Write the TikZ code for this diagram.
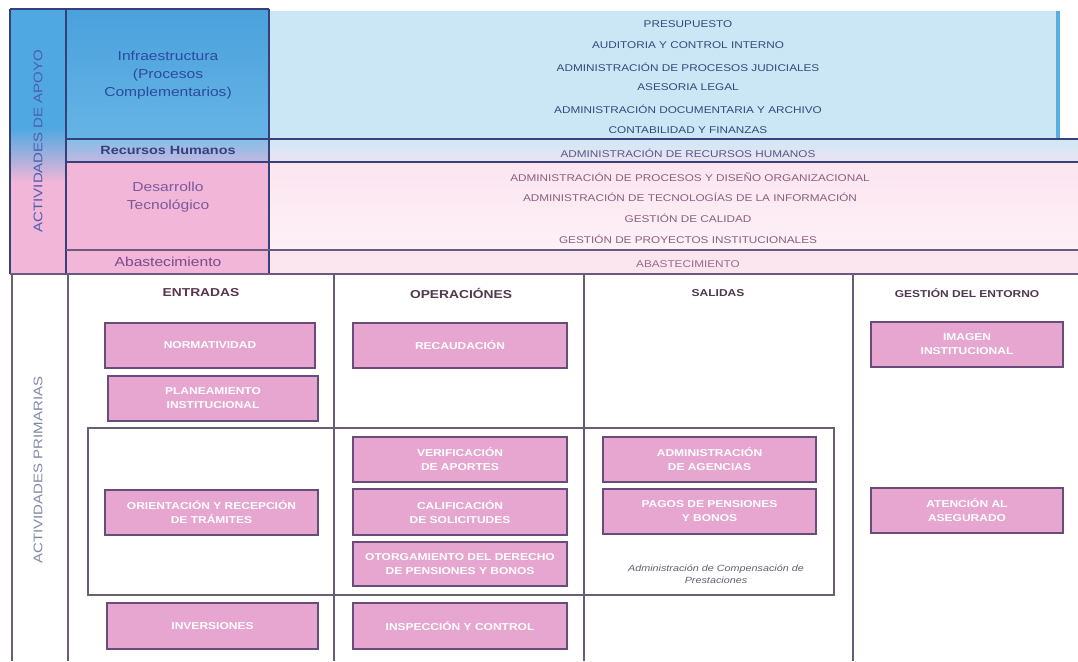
\documentclass[tikz,border=0pt]{standalone}
\usepackage{fontspec}
\setmainfont[FakeStretch=1.2]{Liberation Sans}
\definecolor{navyln}{HTML}{38407A}
\definecolor{plumln}{HTML}{6A5A80}
\definecolor{gridln}{HTML}{6A5E72}
\definecolor{bluecol}{HTML}{4FA8E1}
\definecolor{bluelabA}{HTML}{4AA1DB}
\definecolor{bluelabB}{HTML}{66B4E6}
\definecolor{rhlabA}{HTML}{84BFE8}
\definecolor{rhlabB}{HTML}{C3B6DF}
\definecolor{bluecont}{HTML}{CBE7F6}
\definecolor{blueedge}{HTML}{5AAEE2}
\definecolor{rhcontA}{HTML}{D0E8F6}
\definecolor{rhcontB}{HTML}{EAE2F1}
\definecolor{pinklab}{HTML}{F1B6D8}
\definecolor{pinkcont}{HTML}{FCE5F0}
\definecolor{pinkfade}{HTML}{FDF1F6}
\definecolor{abascont}{HTML}{FBE6F0}
\definecolor{pinkbox}{HTML}{E7A6D0}
\definecolor{boxedge}{HTML}{674C7C}
\definecolor{txtblue}{HTML}{34497A}
\definecolor{txtrh}{HTML}{555A88}
\definecolor{txtmauve}{HTML}{8A607E}
\definecolor{txtabas}{HTML}{9A6A88}
\definecolor{headc}{HTML}{4E3A4C}
\definecolor{headplum}{HTML}{5A3550}
\definecolor{labblue}{HTML}{2C4A9E}
\definecolor{labrh}{HTML}{3A3F7A}
\definecolor{labpurple}{HTML}{7A5A9A}
\definecolor{lababas}{HTML}{7A4A8A}
\definecolor{sideblue}{HTML}{4A5FAE}
\definecolor{sidegrey}{HTML}{8088A8}
\definecolor{notegrey}{HTML}{606070}
\begin{document}
\begin{tikzpicture}[x=1pt,y=-1pt,
  toptxt/.style={font=\fontsize{9.8}{11}\selectfont, text=txtblue},
  lowtxt/.style={toptxt, text=txtmauve},
  lab/.style={font=\fontsize{13}{18}\selectfont, align=center},
  head/.style={font=\bfseries\fontsize{11.5}{13}\selectfont, text=headc},
  sidetxt/.style={font=\fontsize{12.5}{14}\selectfont, rotate=90},
  pbox/.style={draw=boxedge, line width=1.4pt, fill=pinkbox, text=white,
    font=\bfseries\fontsize{10}{14}\selectfont, align=center,
    minimum width=212, minimum height=45, inner sep=0pt},
  topline/.style={draw=navyln, line width=1.4pt},
  gline/.style={draw=gridln, line width=1.3pt}]
\useasboundingbox (0,0) rectangle (1078,661);
\fill[white] (0,0) rectangle (1078,661);

% ---- support activities: backgrounds
\fill[bluecol] (10,9) rectangle (66,128);
\shade[top color=bluecol, bottom color=pinklab] (10,128) rectangle (66,182);
\fill[pinklab] (10,182) rectangle (66,274);
\shade[top color=bluelabA, bottom color=bluelabB] (66,9) rectangle (269,139);
\shade[top color=rhlabA, bottom color=rhlabB] (66,139) rectangle (269,162);
\fill[pinklab] (66,162) rectangle (269,274);
\fill[bluecont] (269,11) rectangle (1060,139);
\fill[blueedge] (1056,11) rectangle (1060,139);
\shade[top color=rhcontA, bottom color=rhcontB] (269,139) rectangle (1078,162);
\shade[top color=pinkcont, bottom color=pinkfade] (269,162) rectangle (1078,250);
\fill[abascont] (269,250) rectangle (1078,274);

% ---- support activities: grid
\draw[topline] (10,9) -- (269,9);
\draw[topline] (10,9) -- (10,274);
\draw[topline] (66,9) -- (66,274);
\draw[topline] (269,9) -- (269,274);
\draw[topline] (66,139) -- (1078,139);
\draw[topline] (66,162) -- (1078,162);
\draw[topline, draw=plumln] (66,250) -- (1078,250);
\draw[topline, draw=plumln] (10,274) -- (1078,274);

% ---- support activities: labels
\node[sidetxt, text=sideblue] (apoyo) at (38,141) {ACTIVIDADES DE APOYO};
\node[lab, text=labblue] (infra) at (168,75) {Infraestructura\\(Procesos\\Complementarios)};
\node[lab, font=\bfseries\fontsize{12}{14}\selectfont, text=labrh] (rrhh) at (168,150) {Recursos Humanos};
\node[lab, text=labpurple] (desa) at (168,197) {Desarrollo\\Tecnológico};
\node[lab, text=lababas] (abas) at (168,262) {Abastecimiento};

\node[toptxt] (t1) at (688,24) {PRESUPUESTO};
\node[toptxt] (t2) at (688,45) {AUDITORIA Y CONTROL INTERNO};
\node[toptxt] (t3) at (688,67) {ADMINISTRACIÓN DE PROCESOS JUDICIALES};
\node[toptxt] (t4) at (688,87) {ASESORIA LEGAL};
\node[toptxt] (t5) at (688,109) {ADMINISTRACIÓN DOCUMENTARIA Y ARCHIVO};
\node[toptxt] (t6) at (688,130) {CONTABILIDAD Y FINANZAS};
\node[toptxt, text=txtrh] (t7) at (688,153) {ADMINISTRACIÓN DE RECURSOS HUMANOS};
\node[lowtxt] (t8) at (690,177) {ADMINISTRACIÓN DE PROCESOS Y DISEÑO ORGANIZACIONAL};
\node[lowtxt] (t9) at (690,197) {ADMINISTRACIÓN DE TECNOLOGÍAS DE LA INFORMACIÓN};
\node[lowtxt] (t10) at (688,218) {GESTIÓN DE CALIDAD};
\node[lowtxt] (t11) at (688,239) {GESTIÓN DE PROYECTOS INSTITUCIONALES};
\node[lowtxt, text=txtabas] (t12) at (688,264) {ABASTECIMIENTO};

% ---- primary activities: grid
\draw[gline] (12,274) -- (12,661);
\draw[gline] (68,274) -- (68,661);
\draw[gline] (334,274) -- (334,661);
\draw[gline] (584,274) -- (584,661);
\draw[gline] (853,274) -- (853,661);
\draw[gline, line width=1.1pt] (88,428) rectangle (834,595);

\node[sidetxt, text=sidegrey] (prim) at (38,470) {ACTIVIDADES PRIMARIAS};
\node[head, text=headplum] (h1) at (201,293) {ENTRADAS};
\node[head] (h2) at (461,293) {OPERACIÓNES};
\node[head, font=\bfseries\fontsize{10}{12}\selectfont] (h3) at (718,293) {SALIDAS};
\node[head, font=\bfseries\fontsize{10}{12}\selectfont] (h4) at (967,293) {GESTIÓN DEL ENTORNO};

% ---- primary activities: process boxes
\node[pbox, minimum width=210] (norm) at (210,345.5) {NORMATIVIDAD};
\node[pbox, minimum width=210] (plan) at (213,398.5) {PLANEAMIENTO\\INSTITUCIONAL};
\node[pbox, minimum width=213] (orie) at (211.5,512.5) {ORIENTACIÓN Y RECEPCIÓN\\DE TRÁMITES};
\node[pbox, minimum width=211, minimum height=46] (inve) at (212.5,626) {INVERSIONES};

\node[pbox, minimum width=214] (reca) at (460,345.5) {RECAUDACIÓN};
\node[pbox, minimum width=214] (veri) at (460,459.5) {VERIFICACIÓN\\DE APORTES};
\node[pbox, minimum width=214, minimum height=46] (cali) at (460,512) {CALIFICACIÓN\\DE SOLICITUDES};
\node[pbox, minimum width=214, minimum height=44] (otor) at (460,564) {OTORGAMIENTO DEL DERECHO\\DE PENSIONES Y BONOS};
\node[pbox, minimum width=214, minimum height=46] (insp) at (460,626) {INSPECCIÓN Y CONTROL};

\node[pbox, minimum width=213] (agen) at (709.5,459.5) {ADMINISTRACIÓN\\DE AGENCIAS};
\node[pbox, minimum width=213] (pago) at (709.5,511.5) {PAGOS DE PENSIONES\\Y BONOS};
\node[font=\itshape\fontsize{9}{12}\selectfont, text=notegrey, align=center] (comp) at (716,574) {Administración de Compensación de\\Prestaciones};

\node[pbox, minimum width=192] (imag) at (967,344.5) {IMAGEN\\INSTITUCIONAL};
\node[pbox, minimum width=192] (aten) at (967,510.5) {ATENCIÓN AL\\ASEGURADO};
\end{tikzpicture}
\end{document}
